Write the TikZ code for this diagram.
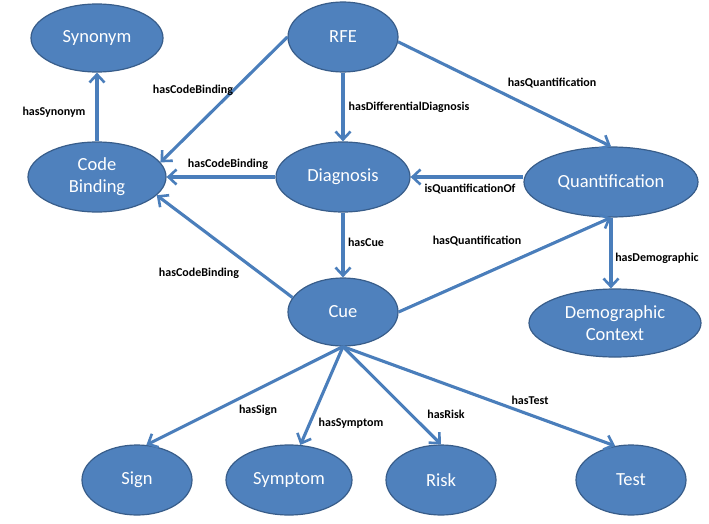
\documentclass[tikz,border=0pt]{standalone}
\usepackage{fontspec}
\setmainfont{Carlito}
\usetikzlibrary{shapes.geometric,arrows.meta,positioning}
\definecolor{ofblue}{HTML}{4F81BD}
\definecolor{ofedge}{HTML}{385D8A}
\definecolor{ofline}{HTML}{4A7EBB}

\begin{document}
\begin{tikzpicture}[x=1pt, y=-1pt,
    concept/.style={ellipse, draw=ofedge, line width=1.2pt, fill=ofblue, text=white,
      inner sep=0pt, align=center, font=\fontsize{18.5}{22}\selectfont},
    rel/.style={draw=ofline, line width=3.1pt, -{Straight Barb[length=8pt,width=15pt,line width=2.6pt]}},
    lbl/.style={font=\fontsize{12}{13}\selectfont\bfseries, inner sep=0pt}]
     \useasboundingbox[fill=white] (0,0) rectangle (709,524);
     \node[concept, minimum width=132pt, minimum height=68pt] (syn) at (97,38) {Synonym};
     \node[concept, minimum width=110pt, minimum height=70pt] (rfe) at (343,37) {RFE};
     \node[concept, minimum width=138pt, minimum height=70pt] (cb) at (97,177) {Code\\Binding};
     \node[concept, minimum width=134pt, minimum height=70pt] (diag) at (343,177) {Diagnosis};
     \node[concept, minimum width=174pt, minimum height=70pt] (quant) at (611,182) {Quantification};
     \node[concept, minimum width=110pt, minimum height=68pt] (cue) at (343,312) {Cue};
     \node[concept, minimum width=172pt, minimum height=68pt] (demo) at (615,323) {Demographic\\Context};
     \node[concept, minimum width=110pt, minimum height=70pt] (sign) at (137,480) {Sign};
     \node[concept, minimum width=126pt, minimum height=70pt] (symp) at (289,480) {Symptom};
     \node[concept, minimum width=110pt, minimum height=70pt] (risk) at (441,480) {Risk};
     \node[concept, minimum width=110pt, minimum height=70pt] (test) at (631,480) {Test};

     \draw[rel] (cb) -- (syn);
     \draw[rel] (rfe.west) -- (cb.13);
     \draw[rel] (rfe) -- (diag);
     \draw[rel] (rfe.-5) -- (quant.north);
     \draw[rel] (diag.west) -- (cb.east);
     \draw[rel] (quant.west |- diag.east) -- (diag.east);
     \draw[rel] (diag) -- (cue);
     \draw[rel] (cue.164) -- (cb.-17);
     \draw[rel] (cue.east) -- (quant.south);
     \draw[rel] (quant.south) -- (quant.south |- demo.north);
     \draw[rel] (cue.south) -- (sign.75);
     \draw[rel] (cue.south) -- (symp.72);
     \draw[rel] (cue.south) -- (risk.north);
     \draw[rel] (cue.south) -- (test.115);

     \node[lbl] (l-syn) at (54,112) {hasSynonym};
     \node[lbl] (l-cb1) at (193,90) {hasCodeBinding};
     \node[lbl] (l-dd) at (409,107) {hasDifferentialDiagnosis};
     \node[lbl] (l-q1) at (552,83) {hasQuantification};
     \node[lbl] (l-cb2) at (228,164) {hasCodeBinding};
     \node[lbl] (l-qo) at (470,189) {isQuantificationOf};
     \node[lbl] (l-cue) at (366,242) {hasCue};
     \node[lbl] (l-q2) at (477,241) {hasQuantification};
     \node[lbl] (l-demo) at (657,258) {hasDemographic};
     \node[lbl] (l-cb3) at (199,273) {hasCodeBinding};
     \node[lbl] (l-sign) at (258,410) {hasSign};
     \node[lbl] (l-symp) at (351,423) {hasSymptom};
     \node[lbl] (l-risk) at (446,414) {hasRisk};
     \node[lbl] (l-test) at (530,400) {hasTest};
\end{tikzpicture}
\end{document}
